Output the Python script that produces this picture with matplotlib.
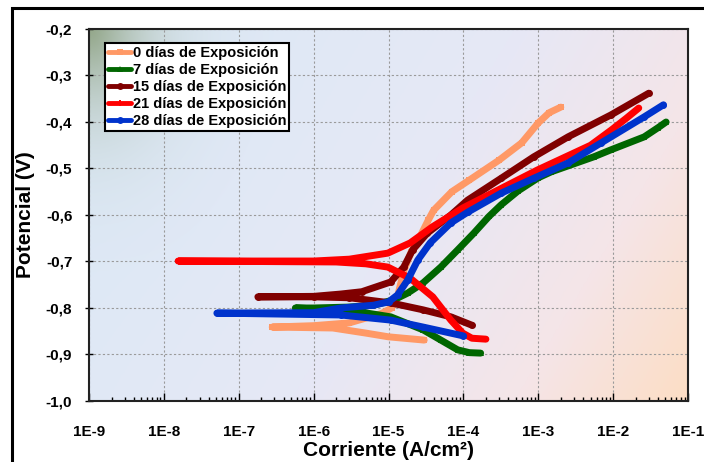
import numpy as np
import matplotlib
matplotlib.use("Agg")
import matplotlib.pyplot as plt
from matplotlib.colors import LinearSegmentedColormap
from matplotlib.patches import Rectangle
from matplotlib.ticker import LogLocator, FixedLocator, FuncFormatter, NullFormatter

plt.rcParams['font.family'] = ['Liberation Sans', 'DejaVu Sans']

# ---------------- data (current A/cm2, potential V) ----------------
labels = ["0 días de Exposición", "7 días de Exposición", "15 días de Exposición",
          "21 días de Exposición", "28 días de Exposición"]

i_0 = [3e-5, 1e-5, 5e-6, 1.8e-6, 2.8e-7, 1e-6, 3e-6, 8e-6, 1.1e-5, 1.3e-5, 1.6e-5, 2.0e-5,
       2.5e-5, 3.4e-5, 4e-5, 7e-5, 1.2e-4, 3e-4, 6e-4, 1e-3, 1.4e-3, 2e-3]
e_0 = [-0.869, -0.862, -0.854, -0.843, -0.841, -0.838, -0.832, -0.812, -0.80, -0.78, -0.72, -0.68,
       -0.654, -0.611, -0.590, -0.550, -0.525, -0.482, -0.445, -0.402, -0.380, -0.368]

i_7 = [1.7e-4, 1.2e-4, 8.4e-5, 5e-5, 2.9e-5, 1.07e-5, 3e-6, 5.7e-7, 1e-6, 3e-6, 6.3e-6, 1.2e-5,
       1.8e-5, 2.9e-5, 5e-5, 8.4e-5, 1.38e-4, 2.2e-4, 3.2e-4, 5.4e-4, 1e-3, 1.5e-3, 5.5e-3,
       9.3e-3, 2.6e-2, 4e-2, 5.1e-2]
e_7 = [-0.897, -0.896, -0.890, -0.869, -0.847, -0.819, -0.805, -0.800, -0.800, -0.798, -0.794,
       -0.782, -0.768, -0.746, -0.712, -0.675, -0.639, -0.603, -0.578, -0.548, -0.520, -0.507,
       -0.475, -0.460, -0.432, -0.412, -0.400]

i_15 = [1.3e-4, 6.8e-5, 2.9e-5, 1.07e-5, 3e-6, 1e-6, 1.8e-7, 1e-6, 2.3e-6, 4.4e-6, 1.07e-5,
        1.6e-5, 2.1e-5, 3.3e-5, 6.8e-5, 1.14e-4, 3.2e-4, 8.7e-4, 2.5e-3, 9.3e-3, 3e-2]
e_15 = [-0.837, -0.819, -0.804, -0.789, -0.778, -0.776, -0.776, -0.775, -0.770, -0.765, -0.744,
        -0.712, -0.675, -0.639, -0.600, -0.568, -0.521, -0.475, -0.432, -0.385, -0.338]

i_21 = [2.0e-4, 1.3e-4, 9.8e-5, 6.8e-5, 3.9e-5, 1.95e-5, 9.8e-6, 5e-6, 2e-6, 1.55e-8, 1e-6,
        3e-6, 9.8e-6, 1.95e-5, 3.9e-5, 9.8e-5, 9.8e-4, 5e-3, 9.5e-3, 1.5e-2, 2.2e-2]
e_21 = [-0.867, -0.865, -0.854, -0.826, -0.776, -0.736, -0.712, -0.705, -0.701, -0.699, -0.699,
        -0.695, -0.682, -0.660, -0.625, -0.585, -0.503, -0.450, -0.417, -0.392, -0.370]

i_28 = [1e-4, 2.9e-5, 1.07e-5, 2.3e-6, 5.1e-8, 1e-6, 2.3e-6, 6.3e-6, 1.0e-5, 1.32e-5, 1.8e-5,
        2.46e-5, 3.6e-5, 6.8e-5, 1.14e-4, 3.2e-4, 8.7e-4, 2.5e-3, 6.9e-3, 2.6e-2, 4.7e-2]
e_28 = [-0.860, -0.841, -0.826, -0.815, -0.811, -0.810, -0.800, -0.794, -0.787, -0.772, -0.740,
        -0.697, -0.660, -0.617, -0.594, -0.553, -0.521, -0.488, -0.445, -0.389, -0.363]

currents = [i_0, i_7, i_15, i_21, i_28]
potentials = [e_0, e_7, e_15, e_21, e_28]
colors = ["#FF9966", "#006600", "#800000", "#FF0000", "#0033CC"]
markers = ["s", "^", "o", "P", "o"]

x_ticks = [1e-9, 1e-8, 1e-7, 1e-6, 1e-5, 1e-4, 1e-3, 1e-2, 1e-1]
x_ticklabels = ["1E-9", "1E-8", "1E-7", "1E-6", "1E-5", "1E-4", "1E-3", "1E-2", "1E-1"]
y_ticks = [-1.0, -0.9, -0.8, -0.7, -0.6, -0.5, -0.4, -0.3, -0.2]

# ---------------- figure ----------------
W, H = 704, 462
fig = plt.figure(figsize=(W / 100, H / 100), dpi=100)
fig.patch.set_facecolor("white")

# outer border (only left and top visible in reference)
fig.add_artist(Rectangle((12 / W, -0.1), 1.2, (1 - 8 / H) + 0.1, transform=fig.transFigure,
                         fill=False, edgecolor="black", linewidth=2.2))

ax = fig.add_axes([89 / W, 1 - 401 / H, (688 - 89) / W, (401 - 29) / H])

# gradient background
nx, ny = 300, 200
u = np.linspace(0, 1, nx)[None, :]
v = np.linspace(1, 0, ny)[:, None]
t = np.clip(0.80 * u + 0.30 * (1 - v) - 0.12, 0, 1)
cmap = LinearSegmentedColormap.from_list("bg", [(0.0, "#DDE9F6"), (0.45, "#E6E8F6"),
                                                 (0.75, "#F5E5E8"), (1.0, "#FDDDC2")])
img = cmap(t)[..., :3]
d = np.sqrt((u * 2.4) ** 2 + ((1 - v) * 1.1) ** 2)
w = 0.9 * np.exp(-(d / 0.22) ** 1.3)[..., None]
corner = np.array([0.55, 0.63, 0.50])
img = img * (1 - w) + corner * w
ax.imshow(img, extent=[0, 1, 0, 1], transform=ax.transAxes, aspect="auto", zorder=0,
          interpolation="bilinear")

for cur, pot, c, m, lab in zip(currents, potentials, colors, markers, labels):
    ax.plot(cur, pot, color=c, linewidth=5, marker=m, markersize=5, markeredgewidth=0,
            solid_capstyle="round", solid_joinstyle="round", label=lab, zorder=3)

ax.set_xscale("log")
ax.set_xlim(1e-9, 1e-1)
ax.set_ylim(-1.0, -0.2)
ax.xaxis.set_major_locator(FixedLocator(x_ticks))
ax.set_xticklabels(x_ticklabels)
ax.xaxis.set_minor_locator(LogLocator(base=10, subs=np.arange(2, 10), numticks=20))
ax.xaxis.set_minor_formatter(NullFormatter())
ax.set_yticks(y_ticks)
ax.yaxis.set_major_formatter(FuncFormatter(lambda val, p: f"{val:.1f}".replace(".", ",")))

ax.grid(True, which="major", color="#9a9a9a", linestyle=(0, (2, 2)), linewidth=0.8, zorder=1)
ax.set_axisbelow(True)

ax.tick_params(axis="x", which="major", direction="in", length=6, width=1, pad=17,
               labelsize=11)
ax.tick_params(axis="x", which="minor", direction="in", length=3, width=1)
ax.tick_params(axis="y", which="major", direction="inout", length=6, width=1, pad=9,
               labelsize=11)
for lab in ax.get_xticklabels() + ax.get_yticklabels():
    lab.set_fontweight("bold")

for s in ax.spines.values():
    s.set_linewidth(1.5)
    s.set_color("#222222")

ax.set_xlabel("Corriente (A/cm²)", fontsize=15, fontweight="bold", labelpad=2)
ax.set_ylabel("Potencial (V)", fontsize=15, fontweight="bold", labelpad=8)

leg = ax.legend(loc="upper left", bbox_to_anchor=(0.027, 0.962), borderaxespad=0,
                frameon=True, fancybox=False, edgecolor="black", framealpha=1,
                prop={"weight": "bold", "size": 10.5}, handlelength=1.6,
                handletextpad=0.1, borderpad=0.2, labelspacing=0.2)
leg.get_frame().set_linewidth(1.5)
for lh in leg.get_lines():
    lh.set_linewidth(3.5)
    lh.set_markersize(5)

fig.savefig("out.png", dpi=100)
